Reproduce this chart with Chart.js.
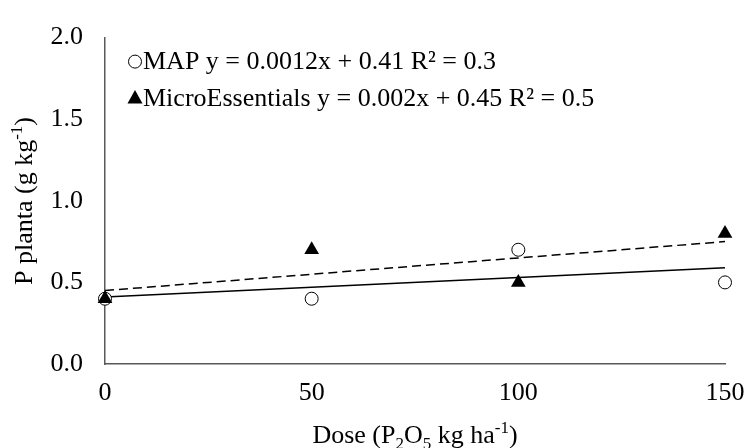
<!DOCTYPE html>
<html>
<head>
<meta charset="utf-8">
<script src="https://cdn.jsdelivr.net/npm/chart.js@4.4.1/dist/chart.umd.min.js"></script>
<style>
  html, body { margin: 0; padding: 0; background: #fff; }
  #wrap { width: 747px; height: 448px; }
</style>
</head>
<body>
<div id="wrap"><canvas id="pChart"></canvas></div>
<script>
// data
var doses = [0, 50, 100, 150];
var mapValues = [0.4, 0.4, 0.7, 0.5];
var microValues = [0.4, 0.7, 0.5, 0.8];
var seriesNames = ['MAP', 'MicroEssentials'];
var slopes = [0.0012, 0.002];
var intercepts = [0.41, 0.45];
var rSquared = [0.3, 0.5];
var xTicks = [0, 50, 100, 150];
var yTicks = [0, 0.5, 1.0, 1.5, 2.0];

var FONT = '"Liberation Serif", "Times New Roman", serif';
var SIZE = 26;
var AXIS = '#595959';

function toPoints(xs, ys) {
    return xs.map(function (x, i) { return { x: x, y: ys[i] }; });
}
function trend(k) {
    var x0 = doses[0], x1 = doses[doses.length - 1];
    return [{ x: x0, y: intercepts[k] + slopes[k] * x0 }, { x: x1, y: intercepts[k] + slopes[k] * x1 }];
}
function legendText(k) {
    return seriesNames[k] + ' y = ' + slopes[k] + 'x + ' + intercepts[k] + ' R\u00B2 = ' + rSquared[k];
}

// draw text made of pieces, some of them sub- or superscript
function richText(ctx, parts, size, cx, cy) {
    var small = Math.round(size * 0.65);
    var w = 0;
    parts.forEach(function (p) {
        ctx.font = (p.s ? small : size) + 'px ' + FONT;
        w += ctx.measureText(p.t).width;
    });
    var x = cx - w / 2;
    ctx.textAlign = 'left';
    ctx.textBaseline = 'alphabetic';
    parts.forEach(function (p) {
        ctx.font = (p.s ? small : size) + 'px ' + FONT;
        var dy = p.s === 'sub' ? size * 0.22 : (p.s === 'sup' ? -size * 0.38 : 0);
        ctx.fillText(p.t, x, cy + dy);
        x += ctx.measureText(p.t).width;
    });
}

var extras = {
    id: 'extras',
    afterDraw: function (chart) {
        var ctx = chart.ctx;
        var area = chart.chartArea;
        ctx.save();
        ctx.fillStyle = '#000';

        // axis titles
        richText(ctx, [{ t: 'Dose (P' }, { t: '2', s: 'sub' }, { t: 'O' }, { t: '5', s: 'sub' },
            { t: ' kg ha' }, { t: '-1', s: 'sup' }, { t: ')' }], SIZE, 415, 443);
        ctx.save();
        ctx.translate(32, 201);
        ctx.rotate(-Math.PI / 2);
        richText(ctx, [{ t: 'P planta (g kg' }, { t: '-1', s: 'sup' }, { t: ')' }], SIZE, 0, 0);
        ctx.restore();

        // legend inside the plot
        var lx = area.left + 30, rows = [area.top + 24, area.top + 61];
        ctx.lineWidth = 1;
        ctx.strokeStyle = '#000';
        ctx.beginPath();
        ctx.arc(lx, rows[0], 6.5, 0, Math.PI * 2);
        ctx.fillStyle = '#fff';
        ctx.fill();
        ctx.stroke();
        ctx.fillStyle = '#000';
        ctx.beginPath();
        ctx.moveTo(lx, rows[1] - 8.5);
        ctx.lineTo(lx + 7.5, rows[1] + 5);
        ctx.lineTo(lx - 7.5, rows[1] + 5);
        ctx.closePath();
        ctx.fill();

        ctx.font = SIZE + 'px ' + FONT;
        ctx.textAlign = 'left';
        ctx.textBaseline = 'middle';
        ctx.fillText(legendText(0), lx + 8, rows[0] + 1);
        ctx.fillText(legendText(1), lx + 8, rows[1] + 1);
        ctx.restore();
    }
};

var ctx = document.getElementById('pChart').getContext('2d');
var pChart = new Chart(ctx, {
    type: 'scatter',
    data: {
        datasets: [{
            label: seriesNames[0] + ' trend',
            type: 'line',
            data: trend(0),
            borderColor: '#000',
            borderWidth: 1.5,
            pointRadius: 0,
            fill: false,
            clip: false,
            order: 3
        }, {
            label: seriesNames[1] + ' trend',
            type: 'line',
            data: trend(1),
            borderColor: '#000',
            borderWidth: 1.5,
            borderDash: [9, 5],
            pointRadius: 0,
            fill: false,
            clip: false,
            order: 4
        }, {
            label: seriesNames[0],
            data: toPoints(doses, mapValues),
            pointStyle: 'circle',
            pointRadius: 6.5,
            backgroundColor: '#fff',
            borderColor: '#000',
            borderWidth: 1,
            clip: false,
            order: 2
        }, {
            label: seriesNames[1],
            data: toPoints(doses, microValues),
            pointStyle: 'triangle',
            pointRadius: 8.5,
            backgroundColor: '#000',
            borderColor: '#000',
            borderWidth: 0,
            clip: false,
            order: 1
        }]
    },
    options: {
        responsive: true,
        maintainAspectRatio: false,
        animation: false,
        layout: { padding: { left: 0, right: 22, top: 29, bottom: 0 } },
        plugins: {
            legend: { display: false },
            tooltip: { enabled: false }
        },
        scales: {
            x: {
                type: 'linear',
                min: xTicks[0],
                max: xTicks[xTicks.length - 1],
                afterBuildTicks: function (scale) {
                    scale.ticks = xTicks.map(function (v) { return { value: v }; });
                },
                afterFit: function (scale) {
                    scale.height = 84;
                    scale.paddingLeft = 0;
                    scale.paddingRight = 0;
                },
                ticks: {
                    color: '#000',
                    padding: 14,
                    maxRotation: 0,
                    font: { family: FONT, size: SIZE }
                },
                grid: { display: false, drawTicks: false },
                border: { display: true, color: AXIS, width: 1.5 }
            },
            y: {
                min: yTicks[0],
                max: yTicks[yTicks.length - 1],
                afterBuildTicks: function (scale) {
                    scale.ticks = yTicks.map(function (v) { return { value: v }; });
                },
                afterFit: function (scale) { scale.width = 105; },
                ticks: {
                    color: '#000',
                    padding: 22,
                    font: { family: FONT, size: SIZE },
                    callback: function (v) { return v.toFixed(1); }
                },
                grid: { display: false, drawTicks: false },
                border: { display: true, color: AXIS, width: 1.5 }
            }
        }
    },
    plugins: [extras]
});
</script>
</body>
</html>
